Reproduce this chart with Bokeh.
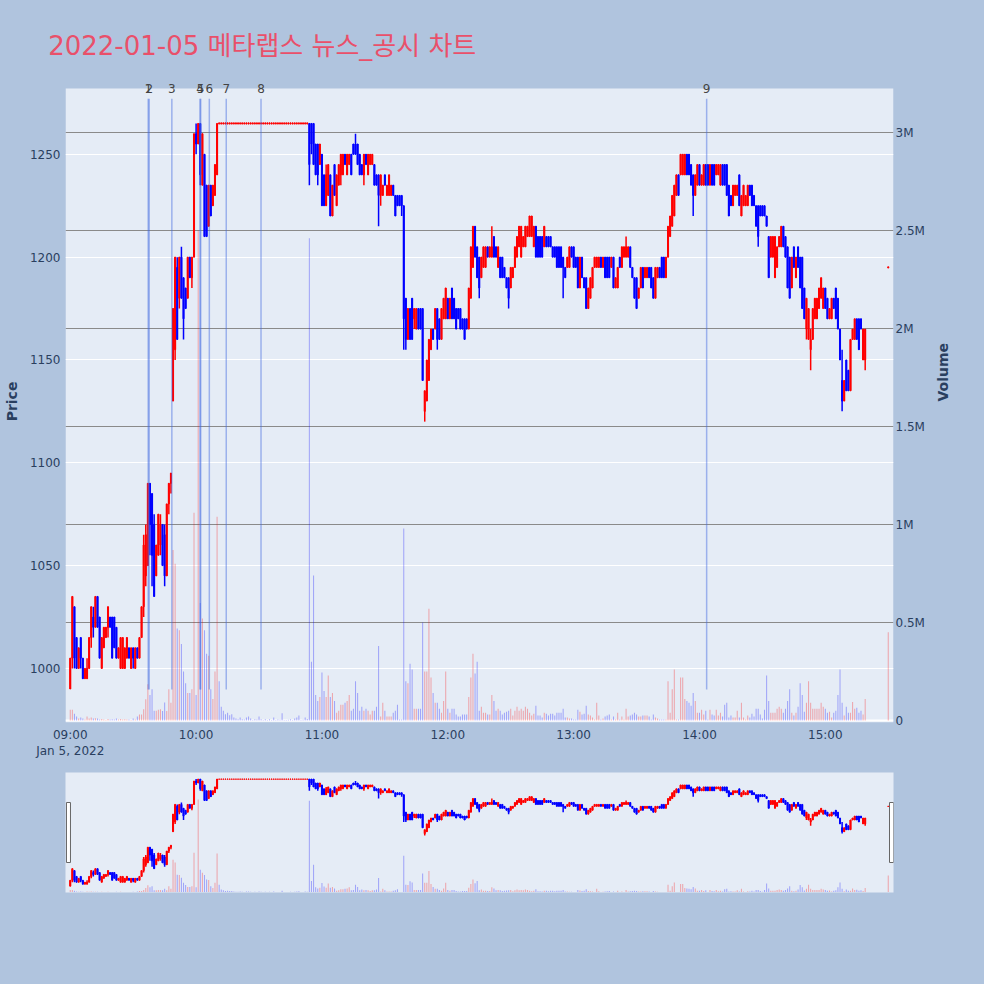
import math
from bokeh.plotting import figure
from bokeh.models import Range1d, LinearAxis, FixedTicker, Span, BoxAnnotation, ColumnDataSource
from bokeh.layouts import column
from bokeh.embed import file_html
from bokeh.resources import INLINE
from bokeh.core.properties import value

# ---------------- data (1-minute candles, minute index from 09:00) ----------------
t_09 = list(range(0, 60))
open_09 = [990,1005,1030,1015,1000,1015,1005,995,995,1000,1015,1025,1020,1035,1025,1000,1010,1015,1020,1025,
           1025,1025,1020,1005,1000,1000,1000,1005,1010,1000,1010,1000,1010,1005,1015,1030,1045,1050,1090,1085,
           1070,1045,1055,1060,1070,1065,1045,1080,1090,1130,1155,1195,1180,1200,1190,1185,1180,1200,1190,1200]
high_09 = [1005,1035,1030,1015,1010,1015,1005,1000,1005,1015,1030,1030,1035,1035,1025,1015,1020,1020,1030,1025,
           1025,1025,1020,1010,1015,1015,1010,1015,1010,1010,1010,1010,1010,1015,1030,1065,1070,1090,1090,1085,
           1075,1060,1075,1075,1070,1070,1080,1090,1095,1175,1200,1200,1200,1205,1190,1185,1200,1200,1200,1260]
low_09 = [990,1000,1000,1000,1000,1000,995,995,995,1000,1010,1015,1020,1020,1005,1000,1010,1015,1015,1020,
          1005,1010,1005,1005,1000,1000,1000,1005,1005,1000,1000,1000,1005,1005,1015,1025,1040,1050,1055,1040,
          1035,1045,1055,1055,1050,1040,1045,1075,1085,1130,1150,1160,1175,1180,1160,1175,1180,1190,1185,1200]
close_09 = [1005,1035,1005,1000,1010,1005,995,1000,1000,1015,1030,1020,1035,1020,1005,1015,1020,1020,1030,1020,
            1005,1010,1005,1010,1015,1015,1010,1015,1005,1010,1005,1010,1005,1015,1030,1060,1065,1090,1070,1055,
            1035,1060,1075,1070,1050,1045,1080,1090,1095,1175,1200,1160,1200,1180,1170,1175,1200,1190,1200,1260]
vol_k_09 = [55,55,35,20,10,15,10,5,20,10,15,10,12,10,5,8,5,3,8,5,
            6,5,10,5,8,5,6,5,5,3,10,5,20,30,30,58,109,185,130,160,
            50,50,55,58,49,92,49,160,90,870,800,470,460,390,250,190,140,140,160,1060]

t_10 = list(range(60, 120))
open_10 = [1260,1255,1265,1235,1250,1235,1215,1235,1225,1230,1240,
           1265,1265,1265,1265,1265,1265,1265,1265,1265,1265,1265,1265,1265,1265,1265,1265,1265,1265,1265,1265,
           1265,1265,1265,1265,1265,1265,1265,1265,1265,1265,1265,1265,1265,1265,1265,1265,1265,1265,1265,1265,
           1265,1265,1265,1265,1265,1265,1255,1255,1245]
high_10 = [1265,1265,1265,1260,1250,1235,1235,1235,1235,1245,1265,
           1265,1265,1265,1265,1265,1265,1265,1265,1265,1265,1265,1265,1265,1265,1265,1265,1265,1265,1265,1265,
           1265,1265,1265,1265,1265,1265,1265,1265,1265,1265,1265,1265,1265,1265,1265,1265,1265,1265,1265,1265,
           1265,1265,1265,1265,1265,1265,1255,1255,1255]
low_10 = [1250,1255,1235,1235,1210,1210,1215,1220,1225,1230,1240,
          1265,1265,1265,1265,1265,1265,1265,1265,1265,1265,1265,1265,1265,1265,1265,1265,1265,1265,1265,1265,
          1265,1265,1265,1265,1265,1265,1265,1265,1265,1265,1265,1265,1265,1265,1265,1265,1265,1265,1265,1265,
          1265,1265,1265,1235,1250,1245,1240,1235,1245]
close_10 = [1255,1265,1240,1260,1210,1210,1235,1220,1235,1245,1265,
            1265,1265,1265,1265,1265,1265,1265,1265,1265,1265,1265,1265,1265,1265,1265,1265,1265,1265,1265,1265,
            1265,1265,1265,1265,1265,1265,1265,1265,1265,1265,1265,1265,1265,1265,1265,1265,1265,1265,1265,1265,
            1265,1265,1265,1245,1255,1245,1240,1240,1255]
vol_k_10 = [130,2500,600,520,460,340,330,160,110,250,1040,
            200,70,50,32,40,27,32,15,10,7,15,7,5,15,20,10,3,7,5,20,
            7,3,7,3,7,3,15,3,5,4,37,3,2,4,7,3,10,15,25,3,4,15,8,
            2460,300,740,130,100,120]

t_11 = list(range(120, 180))
open_11 = [1250,1240,1225,1230,1240,1220,1245,1225,1235,1240,1240,1250,1240,1245,1250,1255,1255,1255,1250,1245,
           1240,1250,1240,1245,1245,1245,1240,1240,1230,1230,1240,1230,1230,1230,1235,1230,1230,1230,1230,1225,
           1180,1160,1175,1180,1170,1165,1175,1175,1175,1125,1130,1140,1155,1165,1165,1175,1170,1160,1170,1170]
high_11 = [1250,1240,1245,1245,1240,1235,1245,1240,1245,1250,1250,1250,1250,1250,1250,1255,1260,1255,1250,1245,
           1250,1250,1250,1250,1250,1245,1240,1240,1240,1235,1240,1235,1240,1235,1235,1230,1230,1230,1230,1225,
           1180,1175,1175,1180,1175,1175,1175,1175,1175,1135,1150,1160,1165,1165,1175,1175,1170,1175,1180,1185]
low_11 = [1225,1225,1225,1230,1220,1220,1230,1225,1235,1235,1240,1245,1240,1245,1240,1250,1250,1245,1240,1240,
          1235,1245,1240,1245,1245,1235,1235,1215,1225,1230,1235,1230,1230,1230,1230,1220,1225,1225,1220,1155,
          1155,1160,1160,1160,1165,1165,1165,1165,1140,1120,1130,1140,1155,1160,1165,1155,1160,1160,1170,1170]
close_11 = [1225,1225,1240,1245,1220,1235,1230,1240,1245,1250,1250,1245,1250,1250,1240,1250,1250,1245,1240,1240,
            1250,1245,1250,1250,1250,1235,1235,1230,1240,1235,1235,1235,1240,1235,1230,1220,1225,1225,1225,1170,
            1160,1175,1160,1160,1175,1175,1165,1165,1140,1135,1150,1160,1165,1160,1175,1160,1160,1175,1180,1185]
vol_k_11 = [245,150,120,230,120,140,100,40,50,80,80,90,100,130,50,60,200,140,50,70,
            50,60,50,30,50,50,70,380,20,90,50,20,20,20,40,50,80,5,5,980,
            200,190,290,260,60,60,60,60,500,250,250,570,220,140,90,90,60,40,100,250]

t_12 = list(range(180, 240))
open_12 = [1180,1170,1185,1180,1175,1175,1175,1170,1170,1170,1165,1180,1195,1215,1205,1200,1190,1195,1195,1205,
           1200,1200,1210,1205,1195,1200,1200,1195,1190,1190,1185,1190,1195,1200,1205,1200,1205,1205,1210,1210,
           1210,1205,1215,1210,1210,1210,1205,1210,1210,1210,1205,1205,1205,1205,1205,1200,1195,1195,1195,1205]
high_12 = [1180,1180,1185,1180,1175,1175,1175,1170,1170,1170,1185,1205,1215,1215,1205,1200,1200,1205,1205,1205,
           1205,1215,1210,1205,1205,1200,1200,1195,1190,1190,1195,1195,1205,1210,1215,1215,1210,1215,1215,1220,
           1220,1215,1215,1210,1210,1210,1215,1210,1210,1210,1205,1205,1205,1205,1205,1200,1195,1200,1205,1205]
low_12 = [1170,1170,1170,1170,1165,1170,1165,1165,1160,1165,1165,1180,1195,1200,1190,1180,1190,1195,1195,1200,
          1200,1200,1200,1200,1195,1190,1190,1190,1185,1175,1185,1190,1195,1200,1205,1200,1205,1205,1210,1210,
          1210,1205,1200,1200,1200,1200,1205,1205,1205,1205,1200,1200,1195,1195,1195,1180,1190,1195,1195,1200]
close_12 = [1170,1180,1170,1170,1165,1170,1165,1165,1160,1165,1185,1205,1215,1200,1190,1185,1200,1205,1205,1200,
            1205,1205,1200,1200,1205,1190,1190,1190,1185,1180,1195,1195,1205,1210,1215,1215,1210,1215,1215,1220,
            1220,1215,1200,1200,1200,1200,1215,1205,1205,1205,1200,1200,1195,1195,1195,1195,1190,1200,1205,1200]
vol_k_12 = [60,40,60,60,30,20,20,30,30,30,120,220,340,240,300,50,70,40,40,30,
            30,130,100,50,60,50,30,40,45,50,60,25,50,70,50,60,50,70,60,40,
            25,35,75,25,25,15,40,35,25,35,35,25,40,40,40,60,15,15,10,10]

t_13 = list(range(240, 300))
open_13 = [1205,1200,1200,1185,1200,1190,1190,1175,1180,1185,1195,1195,1195,1200,1195,1200,1200,1200,1195,1200,
           1185,1185,1200,1195,1200,1200,1200,1205,1195,1190,1190,1180,1185,1195,1190,1190,1195,1195,1190,1180,
           1190,1195,1200,1200,1190,1200,1210,1215,1220,1230,1240,1240,1240,1240,1250,1250,1245,1240,1230,1235]
high_13 = [1205,1200,1200,1200,1200,1190,1190,1185,1190,1195,1200,1200,1200,1200,1200,1200,1200,1200,1200,1200,
           1190,1195,1200,1205,1205,1210,1205,1205,1195,1190,1190,1185,1195,1195,1195,1195,1195,1195,1190,1195,
           1195,1195,1200,1200,1200,1215,1220,1230,1235,1240,1240,1250,1250,1250,1250,1250,1245,1240,1240,1245]
low_13 = [1195,1195,1185,1185,1190,1185,1175,1175,1180,1185,1195,1195,1195,1195,1195,1190,1190,1190,1195,1185,
          1185,1185,1195,1195,1200,1200,1200,1195,1190,1180,1175,1180,1185,1185,1190,1190,1190,1185,1180,1180,
          1190,1190,1190,1190,1190,1200,1210,1215,1220,1230,1230,1240,1240,1240,1240,1240,1235,1220,1230,1235]
close_13 = [1195,1195,1185,1200,1190,1185,1175,1185,1190,1195,1200,1200,1200,1195,1200,1190,1190,1190,1200,1185,
            1190,1195,1195,1205,1205,1205,1205,1195,1190,1180,1175,1185,1195,1185,1195,1195,1190,1185,1180,1195,
            1195,1190,1190,1190,1200,1215,1220,1230,1235,1240,1230,1250,1250,1250,1240,1240,1235,1230,1240,1245]
vol_k_13 = [5,5,55,45,30,35,75,30,25,15,5,90,25,5,10,20,25,30,5,20,
            5,40,5,20,5,60,20,25,30,40,30,20,20,25,25,25,20,5,30,15,
            10,5,5,5,5,200,40,160,260,5,5,220,220,110,100,90,75,140,100,40]

t_14 = list(range(300, 360))
open_14 = [1245,1235,1235,1245,1245,1235,1245,1245,1240,1240,1235,1245,1245,1245,1235,1230,1225,1230,1230,1240,
           1220,1225,1225,1225,1235,1235,1230,1225,1225,1225,1225,1225,1220,1210,1200,1200,1190,1195,1205,1205,
           1215,1210,1205,1200,1185,1205,1190,1205,1200,1200,1185,1165,1160,1155,1160,1170,1170,1175,1180,1175]
high_14 = [1245,1240,1245,1245,1245,1245,1245,1245,1245,1245,1245,1245,1245,1245,1235,1230,1235,1235,1235,1240,
           1230,1235,1230,1235,1235,1235,1230,1225,1225,1225,1225,1225,1220,1210,1210,1210,1210,1205,1210,1215,
           1215,1210,1205,1200,1200,1205,1200,1205,1200,1200,1185,1180,1175,1165,1175,1180,1180,1185,1190,1185]
low_14 = [1235,1235,1235,1235,1235,1235,1235,1235,1240,1240,1235,1235,1235,1230,1220,1225,1225,1230,1230,1225,
          1220,1225,1225,1225,1230,1225,1225,1215,1205,1220,1220,1220,1215,1190,1200,1200,1190,1195,1205,1205,
          1205,1200,1185,1180,1185,1195,1190,1195,1185,1175,1170,1160,1160,1145,1160,1170,1170,1175,1180,1175]
close_14 = [1235,1240,1245,1235,1235,1245,1235,1235,1245,1245,1245,1235,1235,1230,1220,1225,1235,1235,1235,1225,
            1230,1235,1230,1235,1230,1225,1225,1215,1210,1220,1220,1220,1215,1190,1210,1210,1210,1205,1210,1215,
            1205,1200,1185,1180,1200,1195,1200,1195,1185,1175,1170,1180,1175,1160,1175,1180,1180,1185,1190,1185]
vol_k_14 = [40,55,30,50,5,55,30,25,55,25,40,20,80,90,15,25,15,15,50,15,
            90,15,5,25,15,35,20,60,60,30,10,55,230,100,40,40,40,60,70,60,
            40,60,100,160,40,25,40,70,190,130,45,90,200,90,60,60,60,60,90,70]

t_15 = list(range(360, 380)) + [390]
open_15 = [1185,1180,1170,1170,1180,1185,1180,1165,1140,1130,1150,1145,1135,1160,1160,1170,1170,1170,1150,1150,1195]
high_15 = [1185,1180,1175,1180,1180,1185,1180,1165,1155,1140,1150,1145,1160,1165,1170,1170,1170,1170,1165,1165,1195]
low_15 = [1175,1170,1170,1170,1175,1170,1165,1150,1125,1130,1135,1135,1135,1160,1160,1160,1155,1165,1150,1145,1195]
close_15 = [1175,1170,1175,1180,1175,1170,1165,1150,1130,1140,1135,1135,1160,1165,1170,1160,1155,1165,1165,1165,1195]
vol_k_15 = [60,40,45,15,40,50,130,260,90,25,70,40,40,95,60,65,40,50,30,110,450]

# news / disclosure markers
news_times = ["09:37:10", "09:37:38", "09:48:26", "10:01:51", "10:02:11", "10:06:18", "10:14:22", "10:30:57", "14:03:25"]
news_labels = ["1", "2", "3", "4", "5", "6", "7", "8", "9"]

hour_ticks = [0, 60, 120, 180, 240, 300, 360]
hour_labels = ["09:00\nJan 5, 2022", "10:00", "11:00", "12:00", "13:00", "14:00", "15:00"]
price_ticks = [1000, 1050, 1100, 1150, 1200, 1250]
vol_ticks = [0, 500000, 1000000, 1500000, 2000000, 2500000, 3000000]
vol_tick_labels = ["0", "0.5M", "1M", "1.5M", "2M", "2.5M", "3M"]

TITLE = "2022-01-05 메타랩스 뉴스_공시 차트"

# ---------------- styling ----------------
PAGE_BG = "#B0C4DE"
PLOT_BG = "#E5ECF6"
UP = "#FF0000"
DOWN = "#0000FF"
FONT_COLOR = "#2a3f5f"
X0, X1 = -2.27, 392.5
P0, P1 = 973.7, 1282.0          # price range of the plot area
V0, V1 = -10200, 3224500        # volume range of the plot area
PX_PER_WON = 634.0 / (P1 - P0)
PX_PER_SHARE = 634.0 / (V1 - V0)
TOP_PAD = 8                     # px of frame above the plot area (room for marker numbers)
BG_STYLE = {"background-color": PAGE_BG}

# ---------------- assemble ----------------
t = t_09 + t_10 + t_11 + t_12 + t_13 + t_14 + t_15
o = open_09 + open_10 + open_11 + open_12 + open_13 + open_14 + open_15
h = high_09 + high_10 + high_11 + high_12 + high_13 + high_14 + high_15
l = low_09 + low_10 + low_11 + low_12 + low_13 + low_14 + low_15
c = close_09 + close_10 + close_11 + close_12 + close_13 + close_14 + close_15
vk = vol_k_09 + vol_k_10 + vol_k_11 + vol_k_12 + vol_k_13 + vol_k_14 + vol_k_15
vol = [v * 1000 for v in vk]

ccol, vcol, btop, bbot = [], [], [], []
prev_c, prev_col = None, UP
for oi, ci in zip(o, c):
    if ci > oi:
        col = UP
    elif ci < oi:
        col = DOWN
    else:
        if prev_c is not None and ci > prev_c:
            col = UP
        elif prev_c is not None and ci < prev_c:
            col = DOWN
        else:
            col = prev_col
    if ci > oi or (ci == oi and prev_c is not None and ci > prev_c):
        vc = UP
    else:
        vc = DOWN
    ccol.append(col)
    vcol.append(vc)
    top, bot = max(oi, ci), min(oi, ci)
    if top - bot < 0.6:
        top, bot = top + 0.3, bot - 0.3
    btop.append(top)
    bbot.append(bot)
    prev_c, prev_col = ci, col

src = ColumnDataSource(dict(t=t, o=o, h=h, l=l, c=c, vol=vol, ccol=ccol, vcol=vcol, btop=btop, bbot=bbot))


def to_min(s):
    hh, mm, ss = [int(x) for x in s.split(":")]
    return (hh - 9) * 60 + mm + ss / 60.0


news_x = [to_min(s) for s in news_times]


def draw_series(fig):
    fig.vbar(x="t", top="vol", bottom=0, width=0.5, fill_color="vcol", fill_alpha=0.3,
             line_color=None, source=src, y_range_name="vol")
    fig.segment(x0="t", y0="l", x1="t", y1="h", line_color="ccol", line_width=1.5, source=src)
    fig.vbar(x="t", top="btop", bottom="bbot", width=0.5, fill_color="ccol", line_color="ccol",
             line_width=1.0, source=src)


# ---------------- main chart ----------------
p = figure(width=984, height=762, x_range=Range1d(X0, X1),
           y_range=Range1d(P0, P1 + TOP_PAD / PX_PER_WON),
           output_backend="svg", toolbar_location=None,
           min_border_left=60, min_border_right=91, min_border_top=80, min_border_bottom=40,
           background_fill_color=None, border_fill_color=None, outline_line_color=None,
           styles=BG_STYLE)
p.extra_y_ranges = {"vol": Range1d(V0, V1 + TOP_PAD / PX_PER_SHARE)}
p.add_layout(BoxAnnotation(top=P1, fill_color=PLOT_BG, fill_alpha=1.0, line_color=None, level="image"))

p.title.text = TITLE
p.title.text_font = "DejaVu Sans, Noto Sans CJK KR"
p.title.text_font_size = "26px"
p.title.text_font_style = "normal"
p.title.text_color = "#E9506A"
p.title.align = "left"
p.title.vertical_align = "top"
p.title.text_line_height = 1.6
p.title.offset = -17.3
p.title.standoff = 36

p.xaxis.ticker = FixedTicker(ticks=hour_ticks)
p.xaxis.major_label_overrides = {k: lab for k, lab in zip(hour_ticks, hour_labels)}
p.yaxis.ticker = FixedTicker(ticks=price_ticks)
p.yaxis.axis_label = "Price"
yr = LinearAxis(y_range_name="vol", ticker=FixedTicker(ticks=vol_ticks), axis_label="Volume")
yr.major_label_overrides = {k: lab for k, lab in zip(vol_ticks, vol_tick_labels)}
p.add_layout(yr, "right")

for ax in [p.xaxis[0], p.yaxis[0], yr]:
    ax.axis_line_color = None
    ax.major_tick_line_color = None
    ax.minor_tick_line_color = None
    ax.major_tick_out = 0
    ax.major_tick_in = 0
    ax.minor_tick_out = 0
    ax.minor_tick_in = 0
    ax.major_label_text_font = "DejaVu Sans"
    ax.major_label_text_font_size = "12px"
    ax.major_label_text_color = FONT_COLOR
    ax.axis_label_text_font = "DejaVu Sans"
    ax.axis_label_text_font_size = "14px"
    ax.axis_label_text_font_style = "bold"
    ax.axis_label_text_color = FONT_COLOR
p.xaxis.major_label_standoff = 5
p.yaxis.major_label_standoff = 5
p.yaxis.axis_label_standoff = 7
yr.major_label_standoff = 2
yr.axis_label_standoff = 15
yr.axis_label_orientation = math.pi / 2

p.xgrid.visible = False
p.ygrid.ticker = FixedTicker(ticks=price_ticks)
p.ygrid.grid_line_color = "white"
p.ygrid.grid_line_width = 1
for vt in vol_ticks:
    if vt == 0:
        p.add_layout(Span(location=vt, dimension="width", y_range_name="vol", line_color="white",
                          line_width=2, level="underlay"))
    else:
        p.add_layout(Span(location=vt, dimension="width", y_range_name="vol", line_color="#8a8a8a",
                          line_width=1, level="underlay"))

draw_series(p)

# news markers
LINE_LO, LINE_HI = 0.052, 0.984
n = len(news_x)
p.segment(x0=news_x, x1=news_x, y0=[P0 + LINE_LO * (P1 - P0)] * n, y1=[P0 + LINE_HI * (P1 - P0)] * n,
          line_color="royalblue", line_alpha=0.45, line_width=1.5)
p.text(x=news_x, y=[P1] * n, text=news_labels, text_align="center", text_baseline="middle",
       text_font=value("DejaVu Sans"), text_font_size="12px", text_color="#444444")

# ---------------- range slider ----------------
s = figure(width=984, height=222, x_range=Range1d(X0, X1), y_range=Range1d(P0, P1),
           x_axis_type=None, y_axis_type=None, output_backend="svg", toolbar_location=None,
           min_border_left=60, min_border_right=91, min_border_top=10, min_border_bottom=92,
           background_fill_color=PLOT_BG, border_fill_color=None, outline_line_color=None,
           styles=BG_STYLE)
s.extra_y_ranges = {"vol": Range1d(V0, V1)}
s.grid.visible = False
draw_series(s)
mid = P0 + 0.5 * (P1 - P0)
s.rect(x=[X0 + 1.42, X1 - 0.95], y=[mid, mid], width=4, width_units="screen",
       height=0.5 * (P1 - P0), fill_color="white", line_color="#666666", line_width=1)

layout = column(p, s, spacing=0, styles=BG_STYLE)
open("out.html", "w").write(file_html(layout, INLINE))
